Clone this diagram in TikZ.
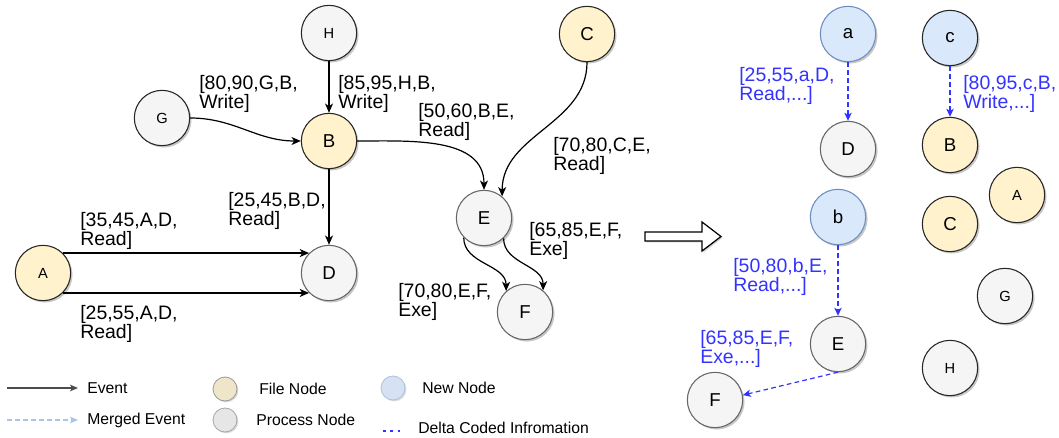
\documentclass[tikz,border=0pt]{standalone}
\usepackage{fontspec}
\setmainfont{Liberation Sans}
\usetikzlibrary{arrows.meta,shadows,shapes.geometric}

\definecolor{filefill}{HTML}{FFF2CC}
\definecolor{procfill}{HTML}{F5F5F5}
\definecolor{procline}{HTML}{666666}
\definecolor{newfill}{HTML}{DAE8FC}
\definecolor{newline}{HTML}{6C8EBF}
\definecolor{deltablue}{HTML}{3333FF}
\definecolor{mergedblue}{HTML}{A9C4EB}
\definecolor{legfile}{HTML}{EFE6CA}
\definecolor{legproc}{HTML}{E6E6E6}
\definecolor{legnew}{HTML}{D6E1F1}

\tikzset{
  vtx/.style={circle, minimum size=41.5pt, inner sep=0pt, line width=0.8pt,
    drop shadow={shadow xshift=1.4pt, shadow yshift=-1.4pt, opacity=0.22, fill=black}},
  big/.style={font=\fontsize{14}{14}\selectfont},
  small/.style={font=\fontsize{11}{11}\selectfont},
  filenode/.style={vtx, fill=filefill, draw=black!85},
  procdark/.style={vtx, fill=procfill, draw=black!85},
  procgrey/.style={vtx, fill=procfill, draw=procline},
  newnode/.style={vtx, fill=newfill, draw=newline},
  lbl/.style={font=\fontsize{14.6}{14.6}\selectfont, align=left, inner sep=0pt, anchor=north west},
  bluelbl/.style={lbl, text=deltablue},
  event/.style={line width=0.9pt, -{Stealth[length=7pt, width=6pt, inset=2pt]}},
  delta/.style={deltablue, line width=0.9pt, dash pattern=on 3.5pt off 2.5pt,
    -{Stealth[length=6pt, width=5.5pt, inset=1.5pt]}},
  legtext/.style={font=\fontsize{11.8}{11.8}\selectfont, anchor=west, inner sep=0pt},
  legnode/.style={circle, minimum size=18pt, inner sep=0pt, line width=0.6pt,
    drop shadow={shadow xshift=1pt, shadow yshift=-1pt, opacity=0.15, fill=black}},
}

\begin{document}
\begin{tikzpicture}[x=0.75pt, y=0.75pt]
\useasboundingbox (0,0) rectangle (1059,-438);

% ---- provenance graph before merging ----
\node[procdark, small] (H) at (329,-33)  {H};
\node[procdark, small] (G) at (162,-118) {G};
\node[filenode, big]   (B) at (329,-141) {B};
\node[filenode, small] (A) at (43,-273)  {A};
\node[procgrey, big]   (D) at (329,-273) {D};
\node[filenode, big]   (C) at (587,-34)  {C};
\node[procgrey, big]   (E) at (484,-218) {E};
\node[procgrey, big]   (F) at (525,-312) {F};

\draw[event] (H.south) -- (B.north);
\draw[event] (G.east) to[out=0, in=180] (B.west);
\draw[event] (B.east) to[out=0, in=90] (E.north);
\draw[event] (C.south) to[out=-90, in=90] (E.50);
\draw[event] (B.south) -- (D.north);
\draw[event] (A.45) -- (D.135);
\draw[event] (A.-45) -- (D.-135);
\draw[event] (E.-136) to[out=-90, in=90] (F.132);
\draw[event] (E.-46) to[out=-90, in=90] (F.50);

\node[lbl] (lGB) at (199,-75)  {[80,90,G,B,\\Write]};
\node[lbl] (lHB) at (338,-75)  {[85,95,H,B,\\Write]};
\node[lbl] (lBE) at (418,-103) {[50,60,B,E,\\Read]};
\node[lbl] (lCE) at (553,-137) {[70,80,C,E,\\Read]};
\node[lbl] (lBD) at (228,-192) {[25,45,B,D,\\Read]};
\node[lbl] (lAD1) at (80,-212) {[35,45,A,D,\\Read]};
\node[lbl] (lAD2) at (80,-305) {[25,55,A,D,\\Read]};
\node[lbl] (lEF1) at (529,-222) {[65,85,E,F,\\Exe]};
\node[lbl] (lEF2) at (398,-283) {[70,80,E,F,\\Exe]};

% ---- transformation arrow ----
\draw[line width=0.9pt, fill=white,
  drop shadow={shadow xshift=1pt, shadow yshift=-1pt, opacity=0.2, fill=black}]
  (645,-232) -- (702,-232) -- (702,-222) -- (721,-236.5) -- (702,-251)
  -- (702,-241) -- (645,-241) -- cycle;

% ---- graph after merging ----
\node[newnode, big] (a) at (848,-34) {a};
\node[vtx, fill=newfill, draw=black!85, big] (c) at (950,-38) {c};
\node[procgrey, big] (D2) at (848,-149) {D};
\node[filenode, big] (B2) at (950,-145) {B};
\node[filenode, small] (A2) at (1017,-195) {A};
\node[filenode, big] (C2) at (950,-224) {C};
\node[newnode, big] (b) at (838,-217) {b};
\node[procdark, small] (G2) at (1005,-296) {G};
\node[procgrey, big] (E2) at (838,-344) {E};
\node[procdark, small] (H2) at (950,-368) {H};
\node[procgrey, big] (F2) at (715,-400) {F};

\draw[delta] (a.south) -- (D2.north);
\draw[delta] (c.south) -- (B2.north);
\draw[delta] (b.south) -- (E2.north);
\draw[delta] (E2.south) -- (F2.10);

\node[bluelbl] (laD) at (739,-67)  {[25,55,a,D,\\Read,...]};
\node[bluelbl] (lcB) at (963,-75)  {[80,95,c,B,\\Write,...]};
\node[bluelbl] (lbE) at (733,-258) {[50,80,b,E,\\Read,...]};
\node[bluelbl] (lEF) at (700,-330) {[65,85,E,F,\\Exe,...]};

% ---- legend ----
\coordinate (ev0) at (7,-388);
\coordinate (ev1) at (78,-388);
\draw[line width=0.9pt, black!70, -{Stealth[length=6pt, width=5pt, inset=1.5pt]}] (ev0) -- (ev1);
\node[legtext] (tev) at (87,-388) {Event};

\coordinate (me0) at (7,-420);
\coordinate (me1) at (78,-420);
\draw[line width=0.9pt, mergedblue, dash pattern=on 3.5pt off 2.5pt,
  -{Stealth[length=6pt, width=5pt, inset=1.5pt]}] (me0) -- (me1);
\node[legtext] (tme) at (87,-420) {Merged Event};

\node[legnode, fill=legfile, draw=black!40] (kfile) at (225,-389) {};
\node[legtext] (tfile) at (259,-389) {File Node};
\node[legnode, fill=legproc, draw=black!35] (kproc) at (225,-420) {};
\node[legtext] (tproc) at (256,-420) {Process Node};
\node[legnode, fill=legnew, draw=newline!55] (knew) at (393,-388) {};
\node[legtext] (tnew) at (422,-388) {New Node};

\coordinate (dl0) at (383,-431);
\coordinate (dl1) at (403,-431);
\draw[deltablue, line width=1.4pt, dash pattern=on 2pt off 3.5pt] (dl0) -- (dl1);
\node[legtext] (tdelta) at (418,-428) {Delta Coded Infromation};
\end{tikzpicture}
\end{document}
